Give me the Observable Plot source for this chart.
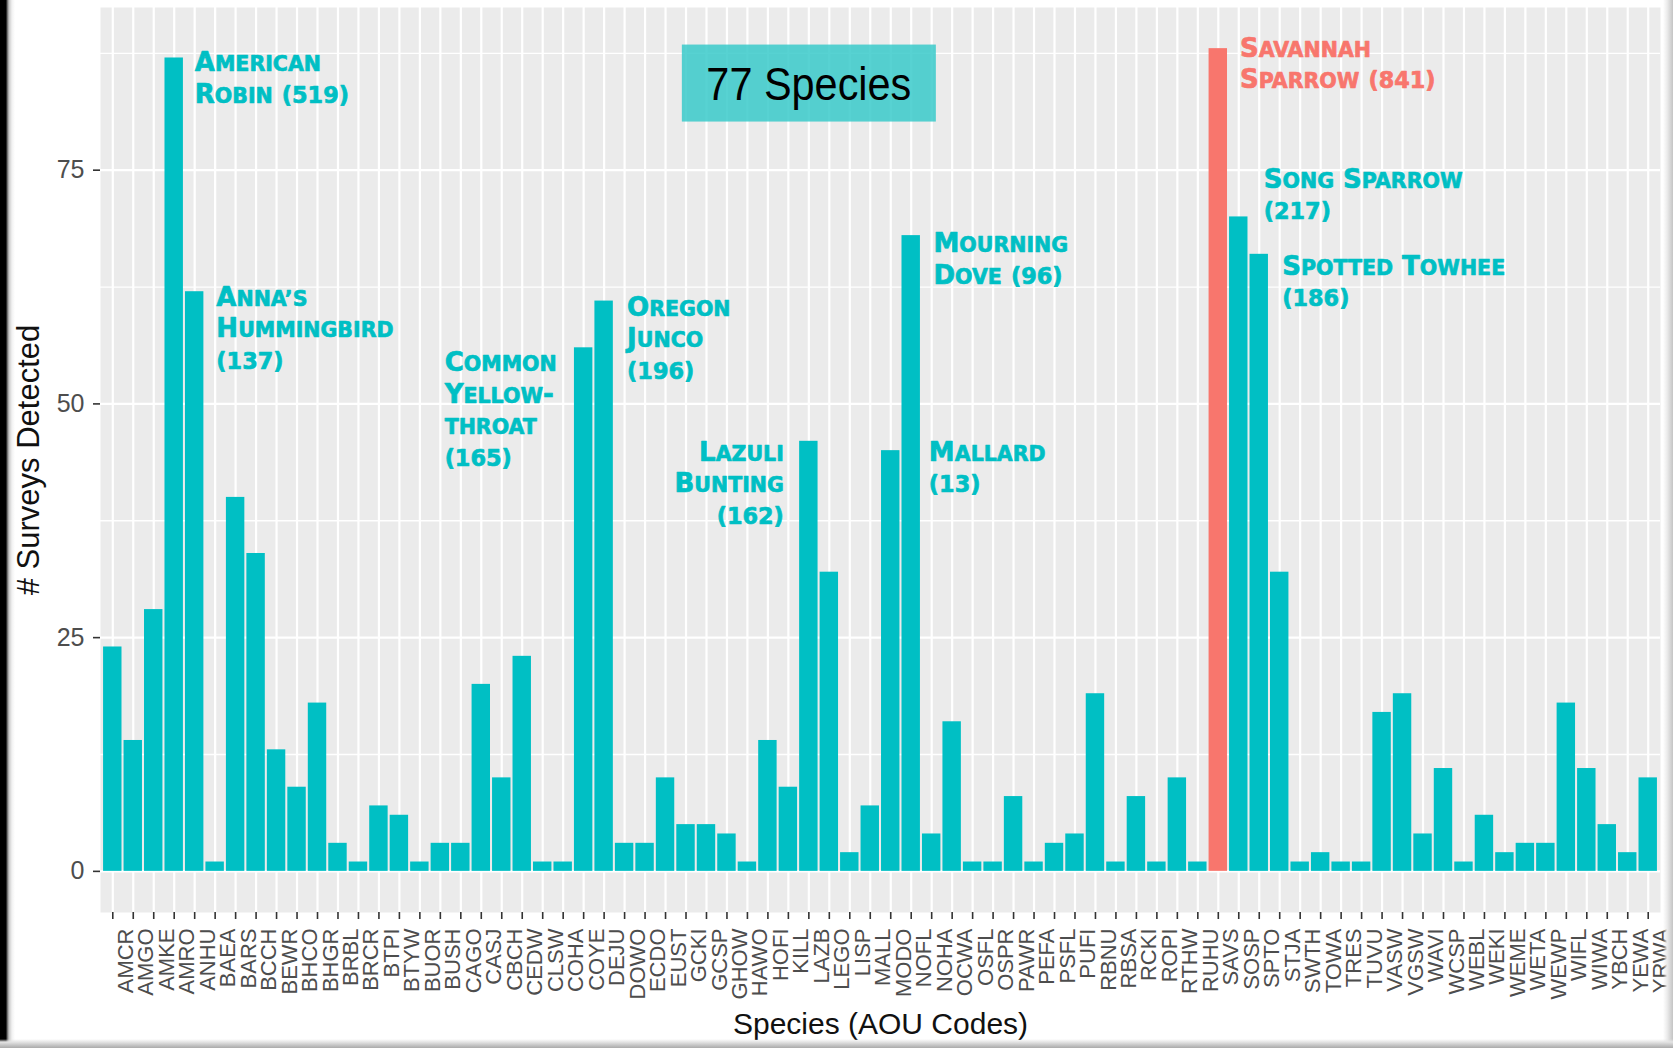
<!DOCTYPE html>
<html>
<head>
<meta charset="utf-8">
<script src="https://cdn.jsdelivr.net/npm/d3@7"></script>
<script src="https://cdn.jsdelivr.net/npm/@observablehq/plot@0.6"></script>
<style>
  html, body { margin: 0; padding: 0; background: #fff; }
  #wrap { position: relative; width: 1673px; height: 1048px; overflow: hidden; background: #fff; }
  #chart svg { display: block; }
  .edge { position: absolute; pointer-events: none; }
  .edge.left { left: 0; top: 0; width: 15px; height: 100%;
    background: linear-gradient(to right, #000 0px, #000 6px, #5a5a5a 7px, #c8c8c8 9px, #f2f2f2 12px, rgba(255,255,255,0) 15px); }
  .edge.right { right: 0; top: 0; width: 10px; height: 100%;
    background: linear-gradient(to right, rgba(255,255,255,0) 0px, #ececec 4px, #c4c4c4 10px); }
  .edge.bottom { left: 0; bottom: 0; width: 100%; height: 9px;
    background: linear-gradient(to bottom, rgba(255,255,255,0) 0px, #e4e4e4 3px, #aaaaaa 9px); }
</style>
</head>
<body>
<div id="wrap">
  <div id="chart"></div>
  <div class="edge left"></div>
  <div class="edge right"></div>
  <div class="edge bottom"></div>
</div>
<script>
// ---- data ----
const codes = ["AMCR","AMGO","AMKE","AMRO","ANHU","BAEA","BARS","BCCH","BEWR","BHCO",
  "BHGR","BRBL","BRCR","BTPI","BTYW","BUOR","BUSH","CAGO","CASJ","CBCH",
  "CEDW","CLSW","COHA","COYE","DEJU","DOWO","ECDO","EUST","GCKI","GCSP",
  "GHOW","HAWO","HOFI","KILL","LAZB","LEGO","LISP","MALL","MODO","NOFL",
  "NOHA","OCWA","OSFL","OSPR","PAWR","PEFA","PSFL","PUFI","RBNU","RBSA",
  "RCKI","ROPI","RTHW","RUHU","SAVS","SOSP","SPTO","STJA","SWTH","TOWA",
  "TRES","TUVU","VASW","VGSW","WAVI","WCSP","WEBL","WEKI","WEME","WETA",
  "WEWP","WIFL","WIWA","YBCH","YEWA","YRWA"];
const surveys = [24,14,28,87,62,1,40,34,13,9,
  18,3,1,7,6,1,3,3,20,10,
  23,1,1,56,61,3,3,10,5,5,
  4,1,14,9,46,32,2,7,45,68,
  4,16,1,1,8,1,3,4,19,1,
  8,1,10,1,88,70,66,32,1,2,
  1,1,17,19,4,11,1,6,2,3,
  3,18,11,5,2,10];
const highlightCode = "SAVS";
const yTicks = [0, 25, 50, 75];
const yMinorTicks = [12.5, 37.5, 62.5, 87.5];
const yDomain = [-4.4, 92.4];
const xTitle = "Species (AOU Codes)";
const yTitle = "# Surveys Detected";
const badge = {text: "77 Species", code: "LAZB", y: 82.5};
// annotation labels: species code, baseline of first line (data units), horizontal offset (px)
const annotations = [
  {code: "AMRO", y: 85.6, dx: 20.6, anchor: "start", text: "American\nRobin (519)"},
  {code: "ANHU", y: 60.5, dx: 21.7, anchor: "start", text: "Anna’s\nHummingbird\n(137)"},
  {code: "COYE", y: 53.5, dx: -139, anchor: "start", text: "Common\nYellow-\nthroat\n(165)"},
  {code: "DEJU", y: 59.4, dx: 23, anchor: "start", text: "Oregon\nJunco\n(196)"},
  {code: "LAZB", y: 43.9, dx: -25, anchor: "end", text: "Lazuli\nBunting\n(162)"},
  {code: "MALL", y: 43.9, dx: 58.6, anchor: "start", text: "Mallard\n(13)"},
  {code: "MODO", y: 66.2, dx: 42.7, anchor: "start", text: "Mourning\nDove (96)"},
  {code: "SAVS", y: 87.1, dx: 21.6, anchor: "start", text: "Savannah\nSparrow (841)"},
  {code: "SOSP", y: 73.1, dx: 25, anchor: "start", text: "Song Sparrow\n(217)"},
  {code: "SPTO", y: 63.8, dx: 23, anchor: "start", text: "Spotted Towhee\n(186)"}
];

// ---- styles ----
const TEAL = "#00BFC4", SALMON = "#F8766D";
const annFont = 26, annLH = 1.21;

const data = codes.map((c, i) => ({code: c, n: surveys[i]}));

const annMarks = annotations.map(a => {
  const col = a.code === highlightCode ? SALMON : TEAL;
  return Plot.text([a], {
    x: "code", y: "y", text: "text",
    textAnchor: a.anchor, lineAnchor: "top", lineHeight: annLH,
    dx: a.dx, dy: -0.71 * annLH * annFont,
    fill: col, stroke: col, strokeWidth: 0.7,
    fontSize: annFont, fontWeight: "bold",
    fontFamily: "DejaVu Sans, sans-serif",
    style: "letter-spacing:1.6px"
  });
});

const chart = Plot.plot({
  width: 1673, height: 1048,
  marginLeft: 100, marginRight: 13, marginTop: 7, marginBottom: 136,
  style: {background: "transparent", fontFamily: "Liberation Sans, Arial, sans-serif"},
  x: {domain: codes, paddingInner: 0.1, paddingOuter: 0.15, align: 0.5},
  y: {domain: yDomain},
  marks: [
    Plot.frame({fill: "#EBEBEB", stroke: null}),
    Plot.gridY(yMinorTicks, {stroke: "#ffffff", strokeOpacity: 1, strokeWidth: 1.3}),
    Plot.gridY(yTicks, {stroke: "#ffffff", strokeOpacity: 1, strokeWidth: 2.2}),
    Plot.gridX({stroke: "#ffffff", strokeOpacity: 1, strokeWidth: 2.2}),
    Plot.barY(data, {x: "code", y: "n", fill: d => d.code === highlightCode ? SALMON : TEAL}),
    Plot.axisY(yTicks, {tickSize: 7, tickPadding: 9, fontSize: 25, fill: "#4D4D4D", stroke: "#333333", strokeWidth: 1.6, label: null}),
    Plot.axisX({tickSize: 7, tickFormat: () => "", stroke: "#333333", strokeWidth: 1.6, label: null}),
    Plot.axisX({tickSize: 0, tickPadding: 16, tickRotate: -90, dx: 13, fontSize: 22, fill: "#4D4D4D", label: null}),
    Plot.text([xTitle], {frameAnchor: "bottom", textAnchor: "middle", lineAnchor: "bottom", dy: 121, fontSize: 30, fill: "#111"}),
    Plot.text([yTitle], {frameAnchor: "left", textAnchor: "middle", rotate: -90, dx: -71, fontSize: 31, fill: "#111"}),
    Plot.text([badge], {x: "code", y: "y", text: "text", lineAnchor: "bottom", textAnchor: "middle",
      fontSize: 46, fill: "#000", fontFamily: "Liberation Sans, Arial, sans-serif"}),
    ...annMarks
  ]
});

document.getElementById("chart").appendChild(chart);

const SVGNS = "http://www.w3.org/2000/svg";
const allTexts = Array.from(chart.querySelectorAll("text"));

// small-caps rendering of the annotation labels (capitals full size, lowercase as smaller capitals)
const annStrings = new Set(annotations.map(a => a.text.replace(/\n/g, "")));
allTexts.filter(t => annStrings.has(t.textContent)).forEach(t => {
  const tspans = Array.from(t.querySelectorAll("tspan"));
  const lines = tspans.length ? tspans : [t];
  lines.forEach(node => {
    const s = node.textContent;
    node.textContent = "";
    const re = /([a-z\u2019']+)|([0-9()]+)|([^a-z0-9()\u2019']+)/g;
    let m;
    while ((m = re.exec(s)) !== null) {
      if (m[1]) {
        const sp = document.createElementNS(SVGNS, "tspan");
        sp.setAttribute("font-size", "0.79em");
        sp.textContent = m[1].toUpperCase();
        node.appendChild(sp);
      } else if (m[2]) {
        const sp = document.createElementNS(SVGNS, "tspan");
        sp.setAttribute("font-size", "0.86em");
        sp.textContent = m[2];
        node.appendChild(sp);
      } else {
        node.appendChild(document.createTextNode(m[3]));
      }
    }
  });
});

// badge: condensed text with a translucent teal box behind it
const badgeText = allTexts.find(t => t.textContent === badge.text);
if (badgeText) {
  badgeText.setAttribute("textLength", 205);
  badgeText.setAttribute("lengthAdjust", "spacingAndGlyphs");
  const bb = badgeText.getBBox();
  const rect = document.createElementNS(SVGNS, "rect");
  const cx = bb.x + bb.width / 2;
  const cy = bb.y + bb.height / 2 - 1;
  rect.setAttribute("x", cx - 127);
  rect.setAttribute("y", cy - 38.5);
  rect.setAttribute("width", 254);
  rect.setAttribute("height", 77);
  rect.setAttribute("fill", "rgb(50,200,200)");
  rect.setAttribute("fill-opacity", 0.82);
  const tr = badgeText.getAttribute("transform");
  if (tr) rect.setAttribute("transform", tr);
  badgeText.parentNode.insertBefore(rect, badgeText);
}
</script>
</body>
</html>
